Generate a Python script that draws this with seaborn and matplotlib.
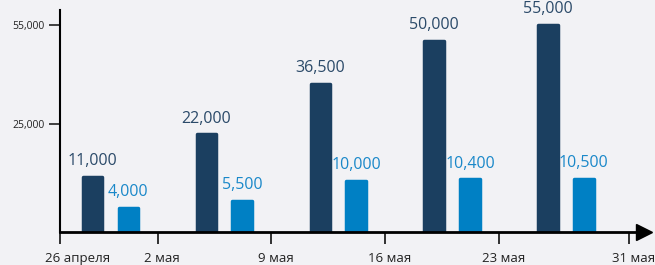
import matplotlib
matplotlib.use("Agg")
import matplotlib.pyplot as plt
import matplotlib.transforms as mtransforms
import numpy as np
import pandas as pd
import seaborn as sns

# x axis in days counted from 26 April
tick_days = [0, 6, 13, 20, 27, 35]
tick_labels = ["26 апреля", "2 мая", "9 мая", "16 мая", "23 мая", "31 мая"]

week_days = [2, 9, 16, 23, 30]
dark_values = [11000, 22000, 36500, 50000, 55000]
light_values = [4000, 5500, 10000, 10400, 10500]
light_shift = 2.2

ytick_values = [25000, 55000]

DARK = "#1b3f60"
LIGHT = "#0080c4"
DARK_TXT = "#2b4a69"
LIGHT_TXT = "#1a88c9"
BG = "#f2f2f5"

sns.set_theme(style="white")
plt.rcParams["font.family"] = ["Open Sans", "DejaVu Sans"]

fig = plt.figure(figsize=(6.55, 2.65), dpi=100, facecolor=BG)
ax = fig.add_axes([60 / 655, 33 / 265, (644 - 60) / 655, (232 - 10) / 265])
ax.set_facecolor(BG)

df_dark = pd.DataFrame({"day": week_days, "value": dark_values})
df_light = pd.DataFrame({"day": [d + light_shift for d in week_days], "value": light_values})

sns.barplot(data=df_dark, x="day", y="value", native_scale=True, width=1.2 / 7,
            color=DARK, saturation=1, ax=ax)
sns.barplot(data=df_light, x="day", y="value", native_scale=True, width=1.2 / 7,
            color=LIGHT, saturation=1, ax=ax)

# slightly rounded corners
for p in ax.patches:
    p.set_edgecolor(p.get_facecolor())
    p.set_linewidth(2.5)
    p.set_joinstyle("round")

# the infographic is not linear in value; a power scale gets close
power = 0.82
ax.set_yscale("function", functions=(lambda v: np.power(np.clip(v, 0, None), power),
                                     lambda v: np.power(np.clip(v, 0, None), 1 / power)))
ax.set_ylim(0, 59900)
ax.set_xlim(0, 35.9)

ax.bar_label(ax.containers[0], labels=[f"{v:,}" for v in dark_values],
             padding=5.5, color=DARK_TXT, fontsize=11.5)
ax.bar_label(ax.containers[1], labels=[f"{v:,}" for v in light_values],
             padding=5.5, color=LIGHT_TXT, fontsize=11.5)

ax.set_yticks(ytick_values, labels=[f"{v:,}" for v in ytick_values])
ax.set_xticks(tick_days, labels=tick_labels)
ax.tick_params(axis="y", left=True, length=8, width=1.2, direction="out",
               labelsize=7.5, pad=3, colors="#222222")
ax.tick_params(axis="x", bottom=True, length=8.5, width=1.3, direction="out",
               labelsize=9.5, pad=6, colors="#222222")
for i, lbl in enumerate(ax.get_xticklabels()):
    dx = 18 if i == 0 else 4
    lbl.set_transform(lbl.get_transform()
                      + mtransforms.ScaledTranslation(dx / 100, 0, fig.dpi_scale_trans))

ax.set_xlabel("")
ax.set_ylabel("")
for side in ["top", "right"]:
    ax.spines[side].set_visible(False)
ax.spines["left"].set_linewidth(1.5)
ax.spines["left"].set_color("black")
ax.spines["bottom"].set_linewidth(2)
ax.spines["bottom"].set_color("black")

ax.plot(1, 0, ">", color="black", markersize=11, transform=ax.get_yaxis_transform(),
        clip_on=False)

fig.savefig("out.png", dpi=100, facecolor=BG)
